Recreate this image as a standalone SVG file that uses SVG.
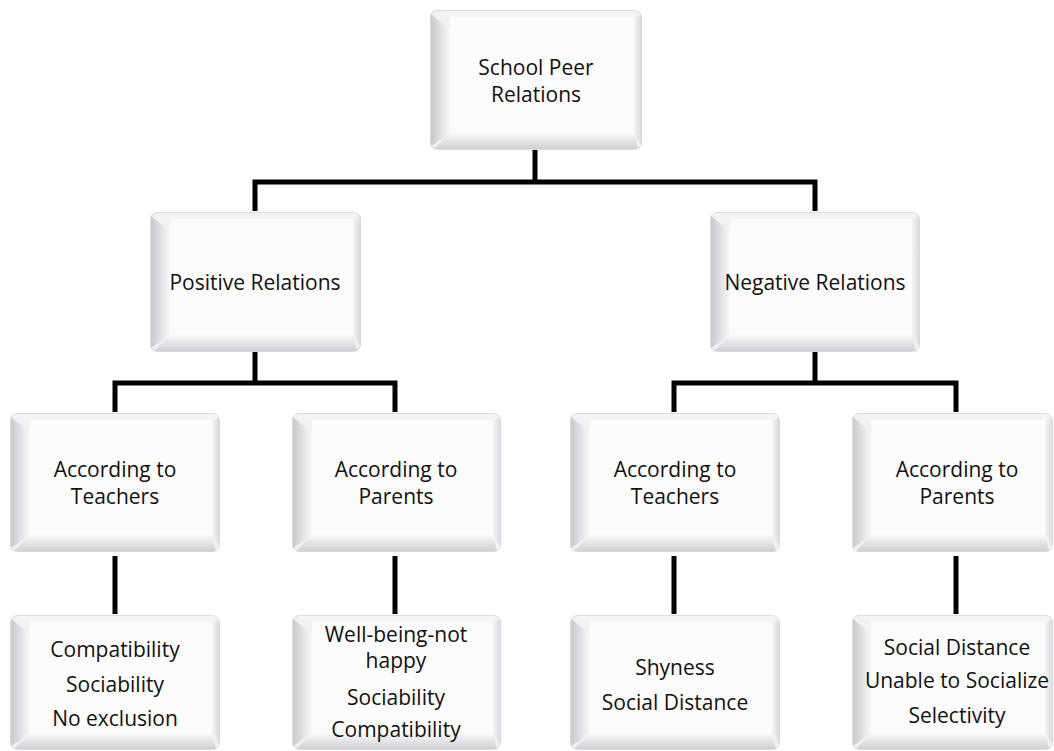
<svg xmlns="http://www.w3.org/2000/svg" width="1054" height="751" viewBox="0 0 1054 751">
<style>
  text { font-family: "Open Sans", "Liberation Sans", sans-serif; font-size: 21px; fill: #111; text-anchor: middle; }
  .conn { fill: none; stroke: #000; stroke-width: 5; stroke-linejoin: miter; stroke-linecap: butt; }
</style>
<defs>
  <linearGradient id="gLeft" x1="0" y1="0" x2="1" y2="0">
    <stop offset="0" stop-color="#c9c9ce"/>
    <stop offset="1" stop-color="#f9f9fa"/>
  </linearGradient>
  <linearGradient id="gBottom" x1="0" y1="0" x2="0" y2="1">
    <stop offset="0" stop-color="#f9f9fa"/>
    <stop offset="1" stop-color="#cfcfd4"/>
  </linearGradient>
  <linearGradient id="gRight" x1="0" y1="0" x2="1" y2="0">
    <stop offset="0" stop-color="#f4f4f6"/>
    <stop offset="1" stop-color="#dcdce0"/>
  </linearGradient>
  <symbol id="box" viewBox="0 0 210 140" preserveAspectRatio="none">
    <rect x="0.5" y="0.5" width="209" height="139" rx="7" fill="#f2f2f4" stroke="#dadade"/>
    <polygon points="1,4 20,20 20,123 1,136" fill="url(#gLeft)"/>
    <polygon points="4,139 20,123 202,123 206,139" fill="url(#gBottom)"/>
    <polygon points="209,5 209,134 202,123 202,7" fill="url(#gRight)"/>
    <polygon points="5,1 205,1 202,7 20,7" fill="#f4f4f5"/>
    <rect x="20" y="7" width="182" height="116" fill="#fcfcfc"/>
  </symbol>
</defs>

<g id="connectors">
  <line class="conn" x1="535" y1="150" x2="535" y2="182"/>
  <polyline class="conn" points="255,211 255,182 815,182 815,211"/>
  <line class="conn" x1="255" y1="352" x2="255" y2="383"/>
  <polyline class="conn" points="115,412 115,383 395,383 395,412"/>
  <line class="conn" x1="815" y1="352" x2="815" y2="383"/>
  <polyline class="conn" points="674,412 674,383 956,383 956,412"/>
  <line class="conn" x1="115" y1="556" x2="115" y2="614"/>
  <line class="conn" x1="395" y1="556" x2="395" y2="614"/>
  <line class="conn" x1="674" y1="556" x2="674" y2="614"/>
  <line class="conn" x1="956" y1="556" x2="956" y2="614"/>
</g>

<g id="n-root">
  <use href="#box" x="430" y="10" width="212" height="140"/>
  <text x="536" y="75">School Peer</text>
  <text x="536" y="102">Relations</text>
</g>

<g id="n-positive">
  <use href="#box" x="150" y="212" width="211" height="140"/>
  <text x="255" y="290">Positive Relations</text>
</g>

<g id="n-negative">
  <use href="#box" x="710" y="212" width="210" height="140"/>
  <text x="815" y="290">Negative Relations</text>
</g>

<g id="n-pos-teachers">
  <use href="#box" x="10" y="413" width="210" height="139"/>
  <text x="115" y="477">According to</text>
  <text x="115" y="504">Teachers</text>
</g>

<g id="n-pos-parents">
  <use href="#box" x="292" y="413" width="209" height="139"/>
  <text x="396" y="477">According to</text>
  <text x="396" y="504">Parents</text>
</g>

<g id="n-neg-teachers">
  <use href="#box" x="570" y="413" width="210" height="139"/>
  <text x="675" y="477">According to</text>
  <text x="675" y="504">Teachers</text>
</g>

<g id="n-neg-parents">
  <use href="#box" x="852" y="413" width="201" height="139"/>
  <text x="957" y="477">According to</text>
  <text x="957" y="504">Parents</text>
</g>

<g id="n-pos-teachers-items">
  <use href="#box" x="10" y="615" width="210" height="135"/>
  <text x="115" y="657">Compatibility</text>
  <text x="115" y="692">Sociability</text>
  <text x="115" y="726">No exclusion</text>
</g>

<g id="n-pos-parents-items">
  <use href="#box" x="292" y="615" width="209" height="135"/>
  <text x="396" y="642">Well-being-not</text>
  <text x="396" y="668">happy</text>
  <text x="396" y="705">Sociability</text>
  <text x="396" y="737">Compatibility</text>
</g>

<g id="n-neg-teachers-items">
  <use href="#box" x="570" y="615" width="210" height="135"/>
  <text x="675" y="675">Shyness</text>
  <text x="675" y="710">Social Distance</text>
</g>

<g id="n-neg-parents-items">
  <use href="#box" x="852" y="615" width="201" height="135"/>
  <text x="957" y="655">Social Distance</text>
  <text x="957" y="688">Unable to Socialize</text>
  <text x="957" y="723">Selectivity</text>
</g>
</svg>
